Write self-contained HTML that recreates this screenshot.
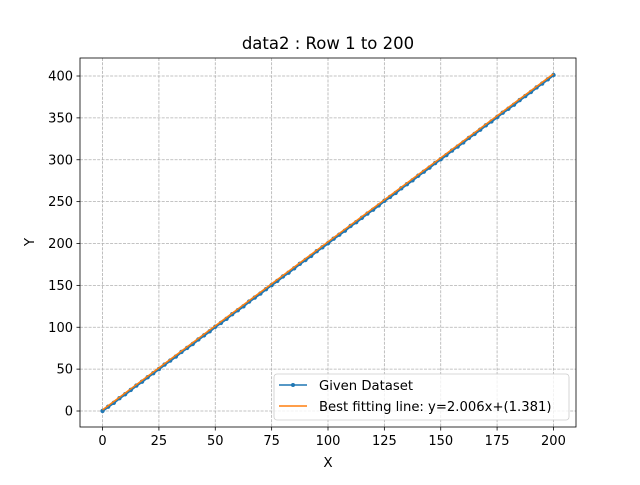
<!DOCTYPE html>
<html><head><meta charset="utf-8"><style>
body{margin:0;background:#fff;}
svg text{font-family:"DejaVu Sans","Liberation Sans",sans-serif;fill:#000;}
</style></head><body>
<svg id="chart" width="640" height="480" viewBox="0 0 640 480" xmlns="http://www.w3.org/2000/svg">
<rect width="640" height="480" fill="#fff"/>
<text x="328" y="49" font-size="16.5" text-anchor="middle">data2 : Row 1 to 200</text>
<g id="grid"></g>
<g id="series"></g>
<rect x="80" y="58" width="496" height="369" fill="none" stroke="#000" stroke-width="0.8"/>
<g id="ticks"></g>
<text x="328" y="467" font-size="13.5" text-anchor="middle">X</text>
<text x="34" y="242" font-size="13.5" text-anchor="middle" transform="rotate(-90 34 242)">Y</text>
<g>
<rect x="274" y="374" width="295" height="46" rx="3" fill="#fff" fill-opacity="0.8" stroke="#ccc" stroke-width="0.8"/>
<g>
<line x1="279" y1="385" x2="307" y2="385" stroke="#1f77b4" stroke-width="1.5"/>
<circle cx="293" cy="385" r="2" fill="#1f77b4"/>
<text x="319" y="390" font-size="13.2">Given Dataset</text></g>
<g>
<line x1="279" y1="406" x2="307" y2="406" stroke="#ff7f0e" stroke-width="1.5"/>
<text x="319" y="411" font-size="13.2">Best fitting line: y=2.006x+(1.381)</text></g>
</g>
</svg>
<script>
const xValues=[0,2.5,5,7.5,10,12.5,15,17.5,20,22.5,25,27.5,30,32.5,35,37.5,40,42.5,45,47.5,50,52.5,55,57.5,60,62.5,65,67.5,70,72.5,75,77.5,80,82.5,85,87.5,90,92.5,95,97.5,100,102.5,105,107.5,110,112.5,115,117.5,120,122.5,125,127.5,130,132.5,135,137.5,140,142.5,145,147.5,150,152.5,155,157.5,160,162.5,165,167.5,170,172.5,175,177.5,180,182.5,185,187.5,190,192.5,195,197.5,200];
const yValues=[0.1,5.2,9.8,15.3,20.0,25.1,30.4,35.0,40.3,45.2,50.1,55.4,60.2,65.0,70.5,75.3,80.0,85.4,90.3,95.1,100.6,105.2,110.1,115.6,120.3,125.0,130.7,135.4,140.2,145.5,150.4,155.3,160.6,165.2,170.4,175.7,180.3,185.2,190.8,195.4,200.3,205.7,210.5,215.3,220.9,225.4,230.6,235.8,240.4,245.5,250.9,255.6,260.4,265.9,270.8,275.5,280.9,285.7,290.6,296.0,300.7,305.6,311.0,315.8,320.7,326.1,330.8,335.9,341.1,345.8,350.9,356.2,360.9,365.8,371.2,376.0,380.9,386.3,391.0,396.1,401.2];
const fitSlope=2.006;
const fitIntercept=1.381;
const xTicks=[0,25,50,75,100,125,150,175,200];
const yTicks=[0,50,100,150,200,250,300,350,400];

const NS="http://www.w3.org/2000/svg";
const L=80,R=576,T=58,B=427;
const xMin=-10,xMax=210,yMin=-19.1,yMax=421.5;
const sx=v=>L+(v-xMin)/(xMax-xMin)*(R-L);
const sy=v=>B-(v-yMin)/(yMax-yMin)*(B-T);
function mk(tag,attrs,parent){const e=document.createElementNS(NS,tag);for(const k in attrs)e.setAttribute(k,attrs[k]);parent.appendChild(e);return e;}
const grid=document.getElementById('grid'),ticks=document.getElementById('ticks'),series=document.getElementById('series');
xTicks.forEach(t=>{const x=sx(t);
 const g=mk('line',{x1:x,x2:x,y1:T,y2:B,stroke:'#b0b0b0','stroke-width':0.8,'stroke-dasharray':'3,1.3'},grid);
 
 
 mk('line',{x1:x,x2:x,y1:B,y2:B+3.5,stroke:'#000','stroke-width':0.8},ticks);
 const tx=mk('text',{x:x,y:B+18,'font-size':13,'text-anchor':'middle'},ticks);tx.textContent=t;
 
 
});
yTicks.forEach(t=>{const y=sy(t);
 const g=mk('line',{x1:L,x2:R,y1:y,y2:y,stroke:'#b0b0b0','stroke-width':0.8,'stroke-dasharray':'3,1.3'},grid);
 
 
 mk('line',{x1:L-3.5,x2:L,y1:y,y2:y,stroke:'#000','stroke-width':0.8},ticks);
 const tx=mk('text',{x:L-7,y:y+4.5,'font-size':13,'text-anchor':'end'},ticks);tx.textContent=t;
 
 
});
const pts=xValues.map((x,i)=>sx(x)+','+sy(yValues[i])).join(' ');
const pl=mk('polyline',{points:pts,fill:'none',stroke:'#1f77b4','stroke-width':2.5},series);


xValues.forEach((x,i)=>{const c=mk('circle',{cx:sx(x),cy:sy(yValues[i]),r:2.2,fill:'#1f77b4'},series);
 
 });
const x0=xValues[0],x1=xValues[xValues.length-1];
const fl=mk('line',{x1:sx(x0),y1:sy(fitSlope*x0+fitIntercept),x2:sx(x1),y2:sy(fitSlope*x1+fitIntercept),stroke:'#ff7f0e','stroke-width':1.5},series);


</script>
</body></html>
